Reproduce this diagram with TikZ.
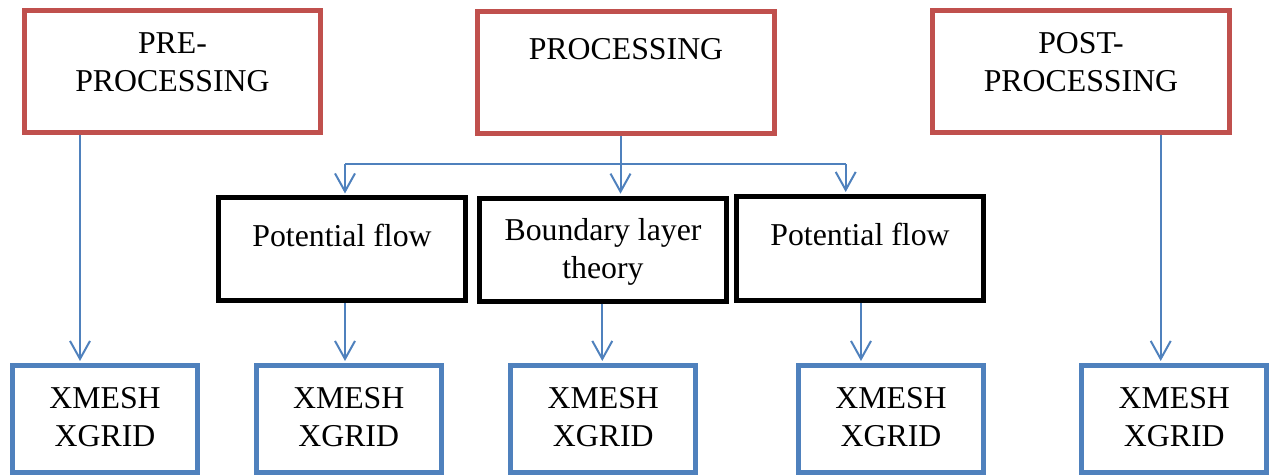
\documentclass[tikz,border=0pt]{standalone}
\usepackage{fontspec}
\setmainfont{Liberation Serif}
\usetikzlibrary{positioning,arrows.meta}
\definecolor{boxred}{HTML}{C0504D}
\definecolor{boxblue}{HTML}{4F81BD}
\tikzset{
  box/.style={draw,line width=2.5pt,inner sep=0pt},
  redbox/.style={box,draw=boxred,minimum width=148.3pt,minimum height=60.9pt},
  blkbox/.style={box,draw=black,minimum width=123.8pt,minimum height=51.5pt},
  blubox/.style={box,draw=boxblue,minimum width=92.5pt,minimum height=53.3pt},
  txt/.style={inner sep=0pt,align=center,font=\fontsize{15.9}{19}\selectfont,execute at begin node=\strut},
  link/.style={draw=boxblue,line width=1pt},
  conn/.style={link,shorten >=1pt,-{Straight Barb[length=9pt,width=10pt]}}
}
\begin{document}
\begin{tikzpicture}[x=0.5pt,y=-0.5pt]
        \useasboundingbox (0,0) rectangle (1271,475);
        % top row
        \node[redbox] (pre)  at (172.5,71.6) {};
        \node[redbox] (proc) at (626,72.4) {};
        \node[redbox] (post) at (1081,71.6) {};
        \node[txt,below=11.9pt of pre.north]  (pret)  {PRE-\\PROCESSING};
        \node[txt,below=11.9pt of proc.north] (proct) {PROCESSING};
        \node[txt,below=11.9pt of post.north] (postt) {POST-\\PROCESSING};
        % middle row
        \node[blkbox] (pf1) at (342,249.5) {};
        \node[blkbox] (blt) at (603,249.7) {};
        \node[blkbox,minimum height=52.2pt] (pf2) at (860,248.7) {};
        \node[txt,below=11.9pt of pf1.north] (pf1t) {Potential flow};
        \node[txt,below=11.3pt of blt.north] (bltt) {Boundary layer\\theory};
        \node[txt,below=12.1pt of pf2.north] (pf2t) {Potential flow};
        % bottom row
        \node[blubox] (g1) at (105,418.8) {};
        \node[blubox] (g2) at (348.7,418.8) {};
        \node[blubox] (g3) at (603.3,418.8) {};
        \node[blubox] (g4) at (891,418.8) {};
        \node[blubox] (g5) at (1174.3,418.8) {};
        \node[txt,below=11.9pt of g1.north] (g1t) {XMESH\\XGRID};
        \node[txt,below=11.9pt of g2.north] (g2t) {XMESH\\XGRID};
        \node[txt,below=11.9pt of g3.north] (g3t) {XMESH\\XGRID};
        \node[txt,below=11.9pt of g4.north] (g4t) {XMESH\\XGRID};
        \node[txt,below=11.9pt of g5.north] (g5t) {XMESH\\XGRID};
        % connectors
        \coordinate (a1) at (80,0);
        \coordinate (a5) at (1160.7,0);
        \coordinate (sp) at (620.5,164.3);
        \coordinate (jl) at (345,164.3);
        \coordinate (jr) at (845.7,164.3);
        \coordinate (m3) at (602.3,0);
        \coordinate (m4) at (861,0);
        \draw[conn] (pre.south -| a1) -- (a1 |- g1.north);
        \draw[conn] (post.south -| a5) -- (a5 |- g5.north);
        \draw[link] (jl) -- (jr);
        \draw[conn] (proc.south -| sp) -- (sp |- blt.north);
        \draw[conn] (jl) -- (jl |- pf1.north);
        \draw[conn] (jr) -- (jr |- pf2.north);
        \draw[conn] (pf1.south -| jl) -- (jl |- g2.north);
        \draw[conn] (blt.south -| m3) -- (m3 |- g3.north);
        \draw[conn] (pf2.south -| m4) -- (m4 |- g4.north);
    \end{tikzpicture}
\end{document}
